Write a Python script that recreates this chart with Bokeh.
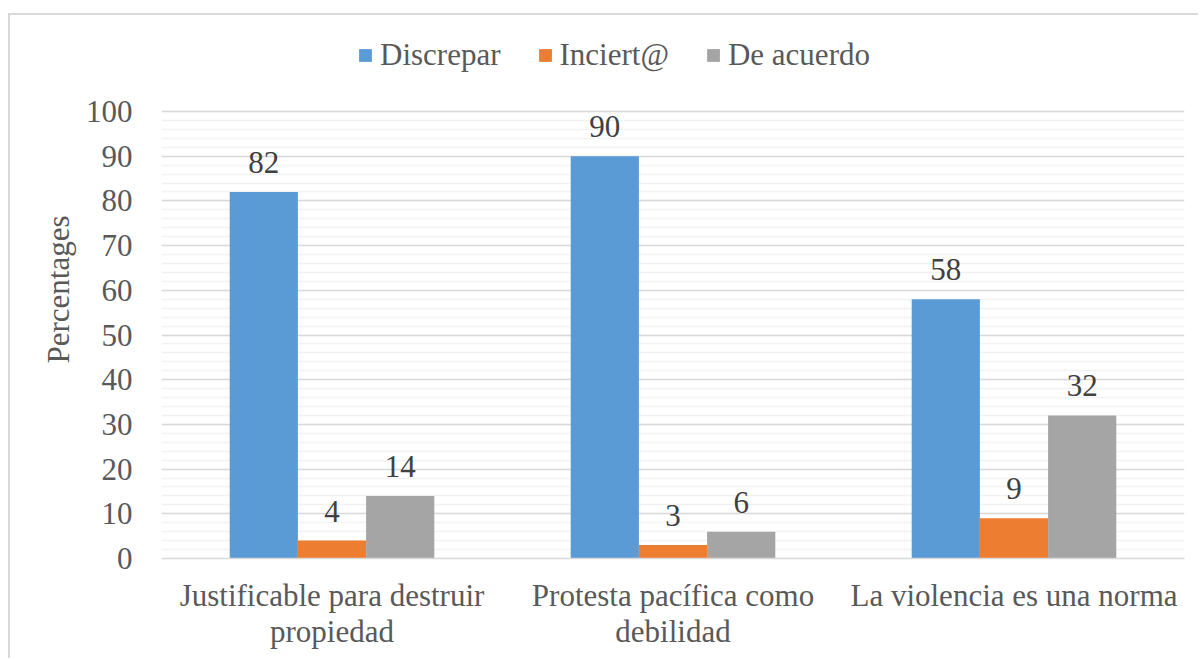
from bokeh.plotting import figure
from bokeh.models import (ColumnDataSource, FactorRange, Legend, LegendItem,
                          FixedTicker, Range1d)
from bokeh.transform import dodge
from bokeh.core.properties import value
from bokeh.embed import file_html
from bokeh.resources import INLINE

categories = ["Justificable para destruir\npropiedad",
              "Protesta pacífica como\ndebilidad",
              "La violencia es una norma"]
series_names = ["Discrepar", "Inciert@", "De acuerdo"]
discrepar = [82, 90, 58]
incierto = [4, 3, 9]
de_acuerdo = [14, 6, 32]
colors = ["#5b9bd5", "#ed7d31", "#a5a5a5"]
y_ticks = [0, 10, 20, 30, 40, 50, 60, 70, 80, 90, 100]
y_minor_ticks = list(range(0, 101, 2))

FONT = "'Liberation Serif', 'Times New Roman', serif"
FS = "31px"

src = ColumnDataSource(dict(cat=categories, d=discrepar, i=incierto, a=de_acuerdo,
                            dl=[str(v) for v in discrepar],
                            il=[str(v) for v in incierto],
                            al=[str(v) for v in de_acuerdo]))

p = figure(width=1190, height=645, x_range=FactorRange(*categories),
           y_range=Range1d(0, 120.36), output_backend="svg", toolbar_location=None,
           min_border_left=151, min_border_right=16, min_border_top=5,
           min_border_bottom=102)
p.outline_line_color = None
p.background_fill_color = "white"
p.border_fill_color = "white"

renderers = []
for col, lab, off, color in [("d", "dl", -0.2, colors[0]),
                             ("i", "il", 0.0, colors[1]),
                             ("a", "al", 0.2, colors[2])]:
    r = p.vbar(x=dodge("cat", off, range=p.x_range), top=col, width=0.2,
               source=src, fill_color=color, line_color=None)
    renderers.append(r)
    p.text(x=dodge("cat", off, range=p.x_range), y=col, text=lab, source=src,
           text_align="center", text_baseline="bottom", y_offset=-19,
           text_font=value(FONT), text_font_size=FS, text_color="#404040")

p.yaxis.ticker = FixedTicker(ticks=y_ticks, minor_ticks=y_minor_ticks)
p.ygrid.grid_line_color = "#d9d9d9"
p.ygrid.grid_line_width = 1.5
p.ygrid.minor_grid_line_color = "#f2f2f2"
p.ygrid.minor_grid_line_width = 1.5
p.xgrid.grid_line_color = None

for ax in (p.xaxis, p.yaxis):
    ax.major_tick_line_color = None
    ax.minor_tick_line_color = None
    ax.major_label_text_font = FONT
    ax.major_label_text_font_size = FS
    ax.major_label_text_color = "#595959"
p.yaxis.axis_line_color = None
p.yaxis.major_label_standoff = 23
p.xaxis.axis_line_color = "#d9d9d9"
p.xaxis.axis_line_width = 1.5
p.xaxis.major_label_standoff = 13
p.xaxis.major_label_text_line_height = 1.05
p.yaxis.axis_label = "Percentages"
p.yaxis.axis_label_text_font = FONT
p.yaxis.axis_label_text_font_size = FS
p.yaxis.axis_label_text_font_style = "normal"
p.yaxis.axis_label_text_color = "#595959"
p.yaxis.axis_label_standoff = 7

legend = Legend(items=[LegendItem(label=n, renderers=[r]) for n, r in zip(series_names, renderers)],
                orientation="horizontal", location=(196, 485),
                label_text_font=FONT, label_text_font_size=FS,
                label_text_color="#595959", glyph_width=16, glyph_height=16,
                label_standoff=7, spacing=36, padding=0, margin=0,
                border_line_color=None, background_fill_alpha=0)
p.add_layout(legend)
p.styles = {"margin-left": "8px", "margin-top": "13px",
            "border-top": "2px solid #d9d9d9", "border-left": "2px solid #d9d9d9"}

open("out.html", "w").write(file_html(p, INLINE))
